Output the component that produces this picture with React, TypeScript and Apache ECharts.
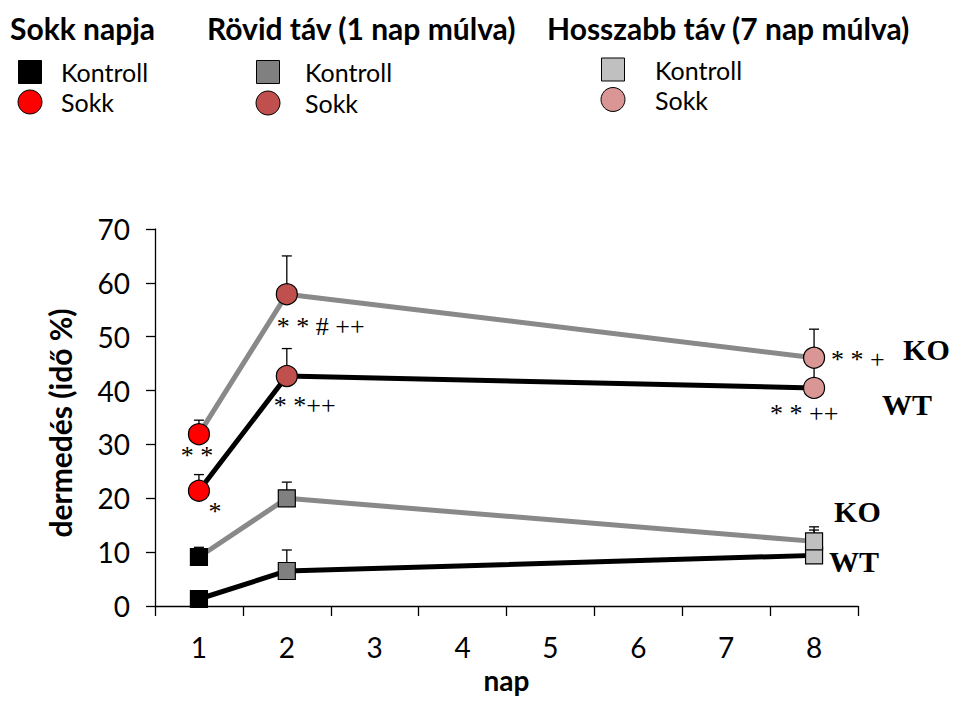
import React, { useEffect, useRef } from "react";
import * as echarts from "echarts";

// ---- data ----
const categories = ["1", "2", "3", "4", "5", "6", "7", "8"];
const days = ["1", "2", "8"];

const wtKontroll = [1.3, 6.5, 9.4];
const koKontroll = [9.1, 20.0, 12.0];
const wtSokk = [21.4, 42.7, 40.5];
const koSokk = [31.9, 57.9, 46.1];

const wtKontrollErr = [0.5, 3.9, 4.7];
const koKontrollErr = [1.8, 3.0, 2.7];
const wtSokkErr = [3.0, 5.1, 4.5];
const koSokkErr = [2.6, 7.1, 5.3];

const kontrollColors = ["#000000", "#808080", "#c0c0c0"];
const sokkColors = ["#ff0000", "#c0504d", "#d99694"];

const groupTitles = ["Sokk napja", "Rövid táv (1 nap múlva)", "Hosszabb táv (7 nap múlva)"];
const legendLabels = ["Kontroll", "Sokk"];

const yMin = 0;
const yMax = 70;
const yInterval = 10;

const xAxisTitle = "nap";
const yAxisTitle = "dermedés (idő %)";

// significance marks, anchored to a series point (day index)
const annotations = [
  { text: "* *", series: "koSokk", day: 0, dx: -2, dy: 21, align: "center", kind: "sig" },
  { text: "*", series: "wtSokk", day: 0, dx: 16, dy: 21, align: "center", kind: "sig" },
  { text: "* * # ++", series: "koSokk", day: 1, dx: -10, dy: 32, align: "left", kind: "sig" },
  { text: "* *++", series: "wtSokk", day: 1, dx: -13, dy: 29, align: "left", kind: "sig" },
  { text: "* * +", series: "koSokk", day: 2, dx: 17, dy: 2, align: "left", kind: "sig" },
  { text: "* * ++", series: "wtSokk", day: 2, dx: -44, dy: 26, align: "left", kind: "sig" },
  { text: "KO", series: "koSokk", day: 2, dx: 89, dy: -8, align: "left", kind: "group" },
  { text: "WT", series: "wtSokk", day: 2, dx: 68, dy: 17, align: "left", kind: "group" },
  { text: "KO", series: "koKontroll", day: 2, dx: 20, dy: -30, align: "left", kind: "group" },
  { text: "WT", series: "wtKontroll", day: 2, dx: 15, dy: 6, align: "left", kind: "group" },
];

const seriesValues: Record<string, number[]> = { wtKontroll, koKontroll, wtSokk, koSokk };

const SANS = "Lato, 'Open Sans', sans-serif";
const SERIF = "'Liberation Serif', 'Times New Roman', serif";

function lineSeries(name: string, values: number[], lineColor: string, symbol: string, colors: string[], size: number) {
  return {
    name,
    type: "line",
    z: 3,
    symbol,
    symbolSize: size,
    showSymbol: true,
    lineStyle: { color: lineColor, width: 5 },
    itemStyle: { borderColor: "#000", borderWidth: 1.2 },
    data: days.map((d, i) => ({
      value: [categories.indexOf(d), values[i]],
      itemStyle: { color: colors[i], borderColor: "#000", borderWidth: 1.2 },
    })),
  };
}

function errSeries(name: string, values: number[], errs: number[]) {
  return {
    name: name + "-err",
    type: "custom",
    z: 2,
    silent: true,
    renderItem: (params: any, api: any) => {
      const x = api.value(0);
      const v = api.value(1);
      const e = api.value(2);
      const p0 = api.coord([x, v]);
      const p1 = api.coord([x, v + e]);
      const st = { stroke: "#000", lineWidth: 1.3 };
      return {
        type: "group",
        children: [
          { type: "line", shape: { x1: p0[0], y1: p0[1], x2: p1[0], y2: p1[1] }, style: st },
          { type: "line", shape: { x1: p1[0] - 5, y1: p1[1], x2: p1[0] + 5, y2: p1[1] }, style: st },
        ],
      };
    },
    data: days.map((d, i) => [categories.indexOf(d), values[i], errs[i]]),
  };
}

export default function App() {
  const ref = useRef<HTMLDivElement>(null);
  useEffect(() => {
    if (!ref.current) return;
    const chart = echarts.init(ref.current, undefined, { renderer: "svg" });
    const option: any = {
      animation: false,
      backgroundColor: "#ffffff",
      grid: { left: 155, right: 95, top: 229, bottom: 96, containLabel: false, outerBoundsMode: "none" },
      xAxis: {
        type: "category",
        data: categories,
        boundaryGap: true,
        name: xAxisTitle,
        nameLocation: "middle",
        nameGap: 60,
        nameTextStyle: { fontFamily: SANS, fontWeight: "bold", fontSize: 28, color: "#000" },
        axisLine: { lineStyle: { color: "#000", width: 1.3 } },
        axisTick: { show: true, length: 10, alignWithLabel: false, lineStyle: { color: "#000", width: 1.3 } },
        axisLabel: { fontFamily: SANS, fontSize: 28, color: "#000", margin: 27 },
        splitLine: { show: false },
      },
      yAxis: {
        type: "value",
        min: yMin,
        max: yMax,
        interval: yInterval,
        name: yAxisTitle,
        nameLocation: "middle",
        nameGap: 80,
        nameTextStyle: { fontFamily: SANS, fontWeight: "bold", fontSize: 30, color: "#000", padding: [0, 11, 0, 0] },
        axisLine: { show: true, lineStyle: { color: "#000", width: 1.3 } },
        axisTick: { show: true, length: 9, lineStyle: { color: "#000", width: 1.3 } },
        axisLabel: { fontFamily: SANS, fontSize: 28, color: "#000", margin: 25 },
        splitLine: { show: false },
      },
      series: [
        errSeries("wtKontroll", wtKontroll, wtKontrollErr),
        errSeries("koKontroll", koKontroll, koKontrollErr),
        errSeries("wtSokk", wtSokk, wtSokkErr),
        errSeries("koSokk", koSokk, koSokkErr),
        lineSeries("wtKontroll", wtKontroll, "#000000", "rect", kontrollColors, 17),
        lineSeries("koKontroll", koKontroll, "#898989", "rect", kontrollColors, 17),
        lineSeries("wtSokk", wtSokk, "#000000", "circle", sokkColors, 21),
        lineSeries("koSokk", koSokk, "#898989", "circle", sokkColors, 21),
      ],
    };
    chart.setOption(option);

    const graphics: any[] = [];
    // legend block
    const headerX = [10, 207, 547];
    const headerY = 28;
    const markerX = [30, 268, 613];
    const kontrollY = [72, 72, 69.5];
    const sokkY = [102, 103, 99.5];
    const textX = [61, 305, 655];
    groupTitles.forEach((t, i) => {
      graphics.push({
        type: "text",
        x: headerX[i],
        y: headerY,
        style: { text: t, fontFamily: SANS, fontWeight: "bold", fontSize: 30, fill: "#000", verticalAlign: "middle", align: "left" },
      });
      graphics.push({
        type: "rect",
        shape: { x: markerX[i] - 11.5, y: kontrollY[i] - 11.5, width: 23, height: 23 },
        style: { fill: kontrollColors[i], stroke: "#000", lineWidth: 1 },
      });
      graphics.push({
        type: "circle",
        shape: { cx: markerX[i], cy: sokkY[i], r: 12 },
        style: { fill: sokkColors[i], stroke: "#000", lineWidth: 1 },
      });
      graphics.push({
        type: "text",
        x: textX[i],
        y: kontrollY[i],
        style: { text: legendLabels[0], fontFamily: SANS, fontSize: 25, fill: "#000", verticalAlign: "middle", align: "left" },
      });
      graphics.push({
        type: "text",
        x: textX[i],
        y: sokkY[i],
        style: { text: legendLabels[1], fontFamily: SANS, fontSize: 25, fill: "#000", verticalAlign: "middle", align: "left" },
      });
    });

    annotations.forEach((a) => {
      const vals = seriesValues[a.series];
      const p = chart.convertToPixel({ xAxisIndex: 0, yAxisIndex: 0 }, [categories.indexOf(days[a.day]), vals[a.day]]) as number[];
      const isGroup = a.kind === "group";
      graphics.push({
        type: "text",
        x: p[0] + a.dx,
        y: p[1] + a.dy,
        z: 10,
        style: {
          text: a.text,
          fontFamily: SERIF,
          fontWeight: isGroup ? "bold" : "normal",
          fontSize: isGroup ? 30 : 26,
          fill: "#000",
          align: a.align,
          verticalAlign: "middle",
        },
      });
    });

    chart.setOption({ graphic: graphics });
    return () => chart.dispose();
  }, []);
  return <div ref={ref} style={{ position: "fixed", left: 0, top: 0, width: 953, height: 702 }} />;
}
